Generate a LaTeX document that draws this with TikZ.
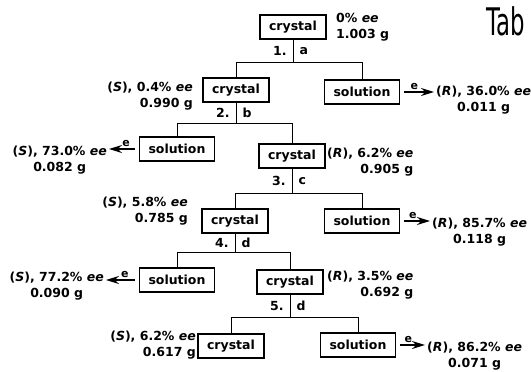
\documentclass[tikz,border=0pt]{standalone}
\usepackage{fontspec}
\setmainfont{DejaVu Sans}
\usetikzlibrary{arrows.meta}
\tikzset{
  box/.style={draw, line width=1.2pt, inner xsep=9pt, inner ysep=0pt,
    minimum height=24pt, font=\fontsize{12.5}{16}\selectfont\bfseries},
  lab/.style={inner sep=0pt, align=#1, font=\fontsize{12.5}{16}\selectfont\bfseries},
  lab/.default=center,
  stp/.style={inner sep=0pt, font=\fontsize{12.5}{16}\selectfont\bfseries},
  conn/.style={line width=1pt},
  arr/.style={-{Stealth[length=13pt,width=8pt]}, line width=1.6pt,
    shorten <=4pt, shorten >=2pt},
  enode/.style={above=1pt, pos=0.4, inner sep=1pt,
    font=\fontsize{11}{11}\selectfont\bfseries}
}

\begin{document}
\begin{tikzpicture}[x=1pt,y=-1pt]
    \useasboundingbox (0,0) rectangle (531,372);
    % boxes
    \node[box] (c1) at (293,27) {crystal};
    \node[box] (c2) at (236,90) {crystal};
    \node[box] (s2) at (362,92) {solution};
    \node[box] (s3) at (177,149) {solution};
    \node[box] (c3) at (292,156) {crystal};
    \node[box] (c4) at (235,221) {crystal};
    \node[box] (s4) at (362,221) {solution};
    \node[box] (s5) at (177,280) {solution};
    \node[box] (c5) at (290,282) {crystal};
    \node[box] (c6) at (231,346) {crystal};
    \node[box] (s6) at (358,345) {solution};
    % yields next to the crystals
    \node[lab=left, anchor=west] (l1) at (336,27) {0\% \textit{ee}\\1.003 g};
    \node[lab=right, anchor=east] (l2) at (193,96) {(\textit{S}), 0.4\% \textit{ee}\\0.990 g};
    \node[lab=right, anchor=west] (l3) at (327,162) {(\textit{R}), 6.2\% \textit{ee}\\0.905 g};
    \node[lab=right, anchor=east] (l4) at (188,211) {(\textit{S}), 5.8\% \textit{ee}\\0.785 g};
    \node[lab=right, anchor=west] (l5) at (327,285) {(\textit{R}), 3.5\% \textit{ee}\\0.692 g};
    \node[lab=right, anchor=east] (l6) at (196,345) {(\textit{S}), 6.2\% \textit{ee}\\0.617 g};
    % yields from the solutions
    \node[lab, anchor=west] (r2) at (436,100) {(\textit{R}), 36.0\% \textit{ee}\\0.011 g};
    \node[lab, anchor=east] (r3) at (107,160) {(\textit{S}), 73.0\% \textit{ee}\\0.082 g};
    \node[lab, anchor=west] (r4) at (432,232) {(\textit{R}), 85.7\% \textit{ee}\\0.118 g};
    \node[lab, anchor=east] (r5) at (104,286) {(\textit{S}), 77.2\% \textit{ee}\\0.090 g};
    \node[lab, anchor=west] (r6) at (427,356) {(\textit{R}), 86.2\% \textit{ee}\\0.071 g};
    % branch points
    \path (c1.south) ++(0,23) coordinate (b1);
    \path (c2.south) ++(0,21) coordinate (b2);
    \path (c3.south) ++(0,25) coordinate (b3);
    \path (c4.south) ++(0,19) coordinate (b4);
    \path (c5.south) ++(0,23) coordinate (b5);
    % steps
    \draw[conn] (c1.south) -- node[stp, left=6pt]{1.} node[stp, right=6pt]{a} (b1);
    \draw[conn] (c2.north) -- (c2.north |- b1) -- (s2.north |- b1) -- (s2.north);
    \draw[conn] (c2.south) -- node[stp, left=6pt]{2.} node[stp, right=6pt]{b} (b2);
    \draw[conn] (s3.north) -- (s3.north |- b2) -- (c3.north |- b2) -- (c3.north);
    \draw[conn] (c3.south) -- node[stp, left=6pt]{3.} node[stp, right=6pt]{c} (b3);
    \draw[conn] (c4.north) -- (c4.north |- b3) -- (s4.north |- b3) -- (s4.north);
    \draw[conn] (c4.south) -- node[stp, left=6pt]{4.} node[stp, right=6pt]{d} (b4);
    \draw[conn] (s5.north) -- (s5.north |- b4) -- (c5.north |- b4) -- (c5.north);
    \draw[conn] (c5.south) -- node[stp, left=6pt]{5.} node[stp, right=6pt]{d} (b5);
    \draw[conn] (c6.north) -- (c6.north |- b5) -- (s6.north |- b5) -- (s6.north);
    % work-up e
    \draw[arr] (s2.east) -- node[enode]{e} (s2.east -| r2.west);
    \draw[arr] (s3.west) -- node[enode]{e} (s3.west -| r3.east);
    \draw[arr] (s4.east) -- node[enode]{e} (s4.east -| r4.west);
    \draw[arr] (s5.west) -- node[enode]{e} (s5.west -| r5.east);
    \draw[arr] (s6.east) -- node[enode]{e} (s6.east -| r6.west);
    % handwritten note
    \node[anchor=north west, inner sep=0pt] (note) at (486,6)
      {\scalebox{0.6}[1]{\fontsize{38}{38}\selectfont Tab}};
\end{tikzpicture}
\end{document}
